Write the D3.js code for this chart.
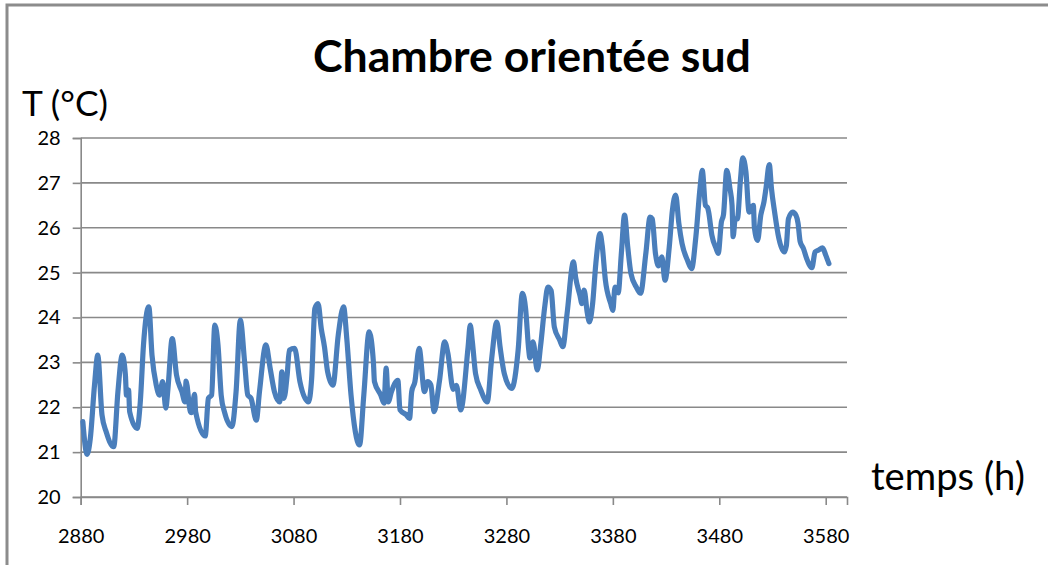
<!DOCTYPE html>
<html>
<head>
<meta charset="utf-8">
<script src="https://cdn.jsdelivr.net/npm/d3@7"></script>
<style>
  html, body { margin: 0; padding: 0; background: #fff; }
  svg { display: block; }
  text { font-family: Lato, "Open Sans", sans-serif; fill: #000; }
</style>
</head>
<body>
<svg id="chart" width="1048" height="565"></svg>
<script>
// Room temperature, south-facing bedroom (hours since start of year, °C)
const hours = [
  2882, 2886, 2889, 2893, 2896, 2900, 2904, 2911, 2915, 2919, 2922, 2923, 2925, 2926,
  2933, 2936, 2939, 2944, 2947, 2951, 2954, 2957, 2960, 2962, 2966, 2970, 2975, 2978,
  2979, 2983, 2984, 2987, 2988, 2997, 3000, 3003, 3006, 3009, 3012, 3015, 3022, 3026,
  3030, 3034, 3037, 3040, 3045, 3048, 3054, 3058, 3062, 3067, 3069, 3071, 3074, 3076,
  3081, 3086, 3094, 3097, 3100, 3103, 3106, 3109, 3112, 3117, 3122, 3127, 3130, 3134,
  3142, 3146, 3151, 3155, 3156, 3162, 3165, 3167, 3169, 3172, 3178, 3180, 3186, 3189,
  3191, 3194, 3198, 3203, 3206, 3209, 3212, 3217, 3222, 3225, 3230, 3233, 3237, 3244,
  3246, 3248, 3251, 3256, 3262, 3266, 3271, 3274, 3278, 3285, 3291, 3295, 3298, 3301,
  3302, 3305, 3309, 3312, 3316, 3319, 3322, 3325, 3330, 3333, 3337, 3343, 3345, 3349,
  3351, 3353, 3356, 3358, 3361, 3364, 3368, 3370, 3373, 3378, 3380, 3382, 3385, 3388,
  3391, 3394, 3397, 3402, 3406, 3411, 3415, 3417, 3420, 3423, 3426, 3429, 3433, 3436,
  3439, 3442, 3445, 3450, 3454, 3458, 3462, 3464, 3467, 3469, 3470, 3473, 3477, 3479,
  3482, 3484, 3487, 3490, 3492, 3493, 3495, 3497, 3500, 3502, 3505, 3508, 3512, 3513,
  3516, 3519, 3522, 3524, 3527, 3529, 3532, 3536, 3541, 3543, 3545, 3549, 3552, 3554,
  3556, 3559, 3562, 3567, 3570, 3573, 3577, 3580, 3583
];
const temps = [
  21.68, 20.95, 21.30, 22.50, 23.16, 21.83, 21.45, 21.12, 22.35, 23.16, 22.72, 22.27, 22.38, 21.90,
  21.53, 22.12, 23.39, 24.24, 23.16, 22.49, 22.27, 22.57, 21.98, 22.42, 23.53, 22.72, 22.35, 22.12,
  22.58, 21.90, 21.88, 22.29, 21.90, 21.36, 22.20, 22.27, 23.83, 23.39, 22.27, 21.90, 21.57, 22.35,
  23.94, 23.01, 22.27, 22.20, 21.71, 22.35, 23.39, 22.87, 22.35, 22.12, 22.79, 22.20, 22.72, 23.27,
  23.31, 22.57, 22.12, 22.64, 24.20, 24.31, 23.76, 23.35, 22.79, 22.49, 23.61, 24.24, 23.53, 22.27,
  21.16, 22.27, 23.68, 23.01, 22.57, 22.27, 22.09, 22.87, 22.12, 22.35, 22.60, 21.94, 21.83, 21.75,
  22.35, 22.57, 23.31, 22.35, 22.57, 22.50, 21.90, 22.57, 23.46, 23.20, 22.40, 22.49, 21.94, 23.35,
  23.83, 23.46, 22.75, 22.38, 22.12, 23.05, 23.90, 23.35, 22.75, 22.42, 23.27, 24.54, 24.20, 23.27,
  23.10, 23.46, 22.83, 23.35, 24.24, 24.68, 24.60, 23.79, 23.50, 23.35, 24.09, 25.24, 24.90, 24.50,
  24.31, 24.61, 24.10, 23.90, 24.31, 25.20, 25.87, 25.60, 24.83, 24.31, 24.16, 24.68, 24.55, 25.43,
  26.28, 25.57, 24.98, 24.68, 24.54, 25.43, 26.24, 26.20, 25.43, 25.15, 25.35, 24.83, 25.57, 26.40,
  26.73, 26.10, 25.65, 25.28, 25.09, 25.80, 26.91, 27.28, 26.50, 26.45, 26.35, 25.84, 25.54, 25.43,
  26.13, 26.30, 27.28, 26.88, 26.50, 25.80, 26.20, 26.20, 27.10, 27.56, 27.25, 26.35, 26.50, 26.00,
  25.72, 26.28, 26.58, 26.90, 27.41, 26.88, 26.35, 25.76, 25.46, 25.60, 26.20, 26.35, 26.28, 26.10,
  25.69, 25.54, 25.32, 25.11, 25.46, 25.50, 25.55, 25.39, 25.20
];
const xTicks = [2880, 2980, 3080, 3180, 3280, 3380, 3480, 3580];
const yTicks = [20, 21, 22, 23, 24, 25, 26, 27, 28];
const titleText = "Chambre orientée sud";
const yTitle = "T (°C)";
const xTitle = "temps (h)";

const svg = d3.select("#chart");
const gridColor = "#898989";
const lineColor = "#4a7ebb";

// outer chart frame
svg.append("rect")
  .attr("x", 7).attr("y", 5)
  .attr("width", 1100).attr("height", 600)
  .attr("fill", "none")
  .attr("stroke", "#8c8c8c")
  .attr("stroke-width", 3);

const x = d3.scaleLinear().domain([2880, 3600]).range([80.7, 847]);
const y = d3.scaleLinear().domain([20, 28]).range([497, 138]);

// horizontal gridlines
svg.append("g")
  .selectAll("line")
  .data(yTicks)
  .join("line")
  .attr("x1", x(2880)).attr("x2", x(3600))
  .attr("y1", d => y(d)).attr("y2", d => y(d))
  .attr("stroke", gridColor)
  .attr("stroke-width", 1.6);

// y axis
const yAxis = svg.append("g")
  .attr("transform", `translate(${x(2880)},0)`)
  .call(d3.axisLeft(y).tickValues(yTicks).tickSize(8).tickPadding(12).tickFormat(d3.format("d")));
yAxis.select(".domain").attr("stroke", gridColor).attr("stroke-width", 1.6);
yAxis.selectAll(".tick line").attr("stroke", gridColor).attr("stroke-width", 1.6);
yAxis.selectAll(".tick text").style("font-size", "20px").attr("fill", "#000");

// x axis
const xAxis = svg.append("g")
  .attr("transform", `translate(0,${y(20)})`)
  .call(d3.axisBottom(x).tickValues(xTicks).tickSize(8).tickPadding(24).tickFormat(d3.format("d")));
xAxis.select(".domain").attr("stroke", gridColor).attr("stroke-width", 1.6);
xAxis.selectAll(".tick line").attr("stroke", gridColor).attr("stroke-width", 1.6);
xAxis.selectAll(".tick text").style("font-size", "20px").attr("fill", "#000");

// temperature series
const series = hours.map((h, i) => [h, temps[i]]);
svg.append("path")
  .datum(series)
  .attr("fill", "none")
  .attr("stroke", lineColor)
  .attr("stroke-width", 5.2)
  .attr("stroke-linejoin", "round")
  .attr("stroke-linecap", "round")
  .attr("d", d3.line().x(d => x(d[0])).y(d => y(d[1])).curve(d3.curveMonotoneX));

// text fitted to a given width
function fitText(str, cx, baseline, width, weight, anchor) {
  const t = svg.append("text")
    .attr("x", cx).attr("y", baseline)
    .attr("text-anchor", anchor)
    .style("font-weight", weight)
    .style("font-size", "100px")
    .text(str);
  const w = t.node().getComputedTextLength();
  t.style("font-size", (100 * width / w) + "px");
  return t;
}

fitText(titleText, 532, 72, 438, 700, "middle");
fitText(yTitle, 22, 116, 86, 400, "start");
fitText(xTitle, 871, 490, 154, 400, "start");
</script>
</body>
</html>
